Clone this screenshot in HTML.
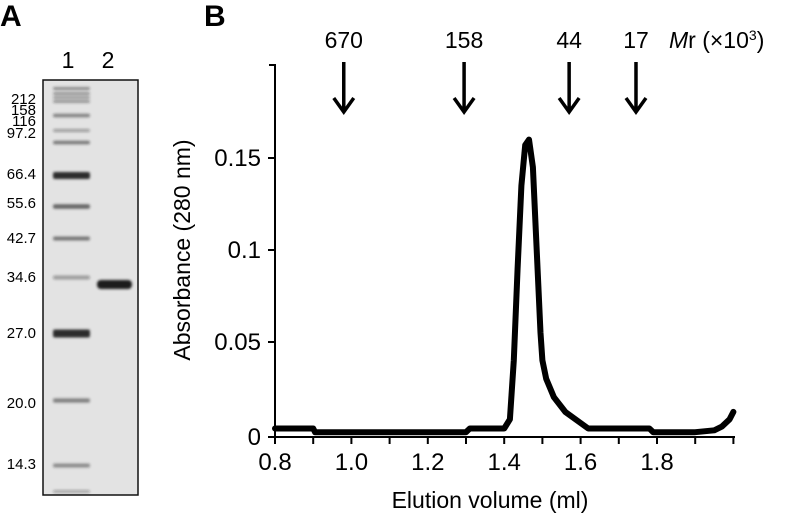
<!DOCTYPE html>
<html><head><meta charset="utf-8"><style>
body{margin:0;background:#fff;font-family:"Liberation Sans",sans-serif}
svg text{font-family:"Liberation Sans",sans-serif}
</style></head><body>
<svg width="793" height="518" viewBox="0 0 793 518">
<g>
<text x="0" y="26" font-size="30" font-weight="bold">A</text>
<text x="68" y="68" font-size="23" text-anchor="middle">1</text>
<text x="108" y="68" font-size="23" text-anchor="middle">2</text>
<defs><filter id="bl"><feGaussianBlur stdDeviation="1.2"/></filter></defs>
<rect x="43" y="80" width="95" height="415" fill="#e3e3e3" stroke="#111" stroke-width="1.5"/>
<g id="bands" filter="url(#bl)"></g>
<g id="mlabels" font-size="15" text-anchor="end"></g>
</g>
<g>
<text x="204" y="26" font-size="30" font-weight="bold">B</text>
<g id="chart"></g>
<text transform="translate(190,250) rotate(-90)" font-size="23" text-anchor="middle">Absorbance (280 nm)</text>
<text x="490" y="508" font-size="23" text-anchor="middle">Elution volume (ml)</text>
<text x="669" y="48" font-size="23"><tspan font-style="italic">M</tspan>r (×10<tspan font-size="14" dy="-8">3</tspan><tspan dy="8">)</tspan></text>
</g>
</svg>
<script>
const markerLabels=["212","158","116","97.2","66.4","55.6","42.7","34.6","27.0","20.0","14.3"];
const markerLabelY=[99,110,121,133,174,203,238,277,333,403,464];
const xTicks=[0.8,1.0,1.2,1.4,1.6,1.8];
const yTicks=[0,0.05,0.1,0.15];
const yTickLabels=["0","0.05","0.1","0.15"];
const standards=["670","158","44","17"];
const standardVol=[0.98,1.295,1.57,1.745];
const vol=[0.8,0.9,0.905,1.0,1.2,1.3,1.31,1.4,1.415,1.425,1.435,1.445,1.455,1.465,1.475,1.485,1.495,1.5,1.51,1.53,1.56,1.6,1.62,1.7,1.78,1.79,1.9,1.95,1.97,1.99,2.0];
const absorb=[0.003,0.003,0.001,0.001,0.001,0.001,0.003,0.003,0.008,0.04,0.09,0.135,0.157,0.16,0.145,0.1,0.055,0.04,0.03,0.02,0.012,0.006,0.003,0.003,0.003,0.001,0.001,0.002,0.004,0.008,0.012];
const NS="http://www.w3.org/2000/svg";
function mk(t,a,p){const e=document.createElementNS(NS,t);for(const k in a)e.setAttribute(k,a[k]);p.appendChild(e);return e;}
const x=v=>275+(v-0.8)*382;
const y=v=>434-v*1840;
const AX=437;
// gel
const bands=document.getElementById('bands');
[[88,1,.45],[93,1,.4],[97,1,.35],[101,1,.4],[115,1.2,.5],[130,1,.35],[142,1.3,.55],[175,3,.95],[206,1.8,.65],[238,1.5,.55],[277,1.5,.35],[333,3.5,.95],[400,1.6,.5],[465,1.5,.45],[491,1,.3]].forEach(b=>{
const r=mk('rect',{x:53,y:b[0]-b[1],width:37,height:b[1]*2+1,rx:2,fill:'#222','fill-opacity':b[2]},bands);


});
const sb=mk('rect',{x:97,y:280,width:35,height:9,rx:4,fill:'#1a1a1a'},bands);


const ml=document.getElementById('mlabels');
markerLabels.forEach((t,i)=>{const e=mk('text',{x:36,y:markerLabelY[i]+5},ml);e.textContent=t;

});
// chart
const g=document.getElementById('chart');
const ya=mk('path',{d:`M269 65H275V${AX}`,stroke:'#000','stroke-width':2,fill:'none'},g);


const xa=mk('path',{d:`M269 ${AX}H735`,stroke:'#000','stroke-width':2,fill:'none'},g);


for(let v=0.8;v<=2.001;v+=0.1){const l=mk('line',{x1:x(v),x2:x(v),y1:AX,y2:AX+7,stroke:'#000','stroke-width':2},g);

}
xTicks.forEach(v=>{const t=mk('text',{x:x(v),y:AX+33,'font-size':24,'text-anchor':'middle'},g);t.textContent=v.toFixed(1);

});
yTicks.forEach((v,i)=>{const yy=i?y(v):AX;const l=mk('line',{x1:268,x2:275,y1:yy,y2:yy,stroke:'#000','stroke-width':2},g);


const t=mk('text',{x:261,y:yy+8,'font-size':24,'text-anchor':'end'},g);t.textContent=yTickLabels[i];

});
standards.forEach((s,i)=>{const cx=x(standardVol[i]);
const t=mk('text',{x:cx,y:48,'font-size':23,'text-anchor':'middle'},g);t.textContent=s;


const a=mk('path',{d:`M${cx} 62V112M${cx-10} 98L${cx} 112L${cx+10} 98`,stroke:'#000','stroke-width':3.5,fill:'none'},g);

});
const d=vol.map((v,i)=>(i?'L':'M')+x(v).toFixed(1)+' '+y(absorb[i]).toFixed(1)).join('');
const p=mk('path',{d:d,stroke:'#000','stroke-width':6,fill:'none','stroke-linejoin':'round','stroke-linecap':'round'},g);


</script>
</body></html>
